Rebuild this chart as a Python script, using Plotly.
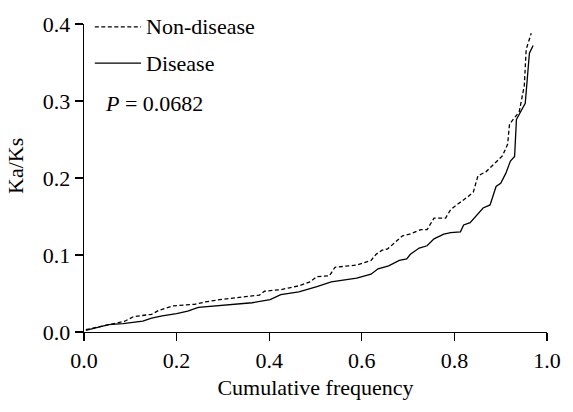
import plotly.graph_objects as go

# Cumulative frequency vs Ka/Ks
nondisease_freq = [0.004, 0.04, 0.076, 0.088, 0.107, 0.146, 0.161, 0.193, 0.239, 0.262,
                   0.293, 0.325, 0.379, 0.39, 0.425, 0.441, 0.464, 0.488, 0.503, 0.530,
                   0.542, 0.589, 0.620, 0.631, 0.643, 0.656, 0.688, 0.703, 0.728, 0.741,
                   0.756, 0.781, 0.792, 0.809, 0.830, 0.841, 0.851, 0.868, 0.890, 0.904,
                   0.915, 0.919, 0.94, 0.951, 0.955, 0.966]
nondisease_kaks = [0.003, 0.008, 0.0127, 0.014, 0.020, 0.023, 0.028, 0.034, 0.036, 0.039,
                   0.042, 0.044, 0.048, 0.053, 0.055, 0.057, 0.060, 0.065, 0.072, 0.073,
                   0.084, 0.087, 0.093, 0.101, 0.106, 0.108, 0.125, 0.127, 0.133, 0.133,
                   0.148, 0.148, 0.159, 0.167, 0.176, 0.182, 0.203, 0.208, 0.221, 0.229,
                   0.244, 0.27, 0.286, 0.32, 0.367, 0.388]

disease_freq = [0.004, 0.053, 0.084, 0.127, 0.146, 0.169, 0.2, 0.224, 0.247, 0.293,
                0.363, 0.402, 0.425, 0.464, 0.488, 0.503, 0.534, 0.589, 0.620, 0.635,
                0.658, 0.681, 0.697, 0.705, 0.724, 0.741, 0.756, 0.777, 0.792, 0.813,
                0.820, 0.834, 0.862, 0.877, 0.883, 0.890, 0.900, 0.911, 0.921, 0.930,
                0.934, 0.953, 0.962, 0.970]
disease_kaks = [0.002, 0.0097, 0.011, 0.014, 0.018, 0.021, 0.024, 0.027, 0.032, 0.034,
                0.038, 0.042, 0.0485, 0.052, 0.056, 0.059, 0.065, 0.070, 0.075, 0.082,
                0.086, 0.093, 0.095, 0.101, 0.109, 0.112, 0.121, 0.127, 0.129, 0.130,
                0.139, 0.142, 0.161, 0.165, 0.176, 0.189, 0.193, 0.206, 0.222, 0.228,
                0.276, 0.297, 0.362, 0.372]

x_ticks = [0.0, 0.2, 0.4, 0.6, 0.8, 1.0]
y_ticks = [0.0, 0.1, 0.2, 0.3, 0.4]
series_names = ["Non-disease", "Disease"]
p_text = "<i>P</i> = 0.0682"

FONT = "Liberation Serif"
FS = 22
W, H = 573, 412
ML, MR, MT, MB = 84, 18, 17, 80

fig = go.Figure()
fig.add_trace(go.Scatter(x=nondisease_freq, y=nondisease_kaks, mode="lines",
                         name=series_names[0],
                         line=dict(color="black", width=1.3, dash="4px,2.5px")))
fig.add_trace(go.Scatter(x=disease_freq, y=disease_kaks, mode="lines",
                         name=series_names[1],
                         line=dict(color="black", width=1.3)))

pw = W - ML - MR
ph = H - MT - MB

def px_x(p):
    return (p - ML) / pw

def px_y(p):
    return (H - MB - p) / ph

# manual legend
legend_rows = [(series_names[0], "4px,2.5px", 20), (series_names[1], "solid", 57)]
for name, dash, ypx in legend_rows:
    fig.add_shape(type="line", xref="paper", yref="paper",
                  x0=px_x(95), x1=px_x(142), y0=px_y(ypx), y1=px_y(ypx),
                  line=dict(color="black", width=1.3, dash=dash))
    fig.add_annotation(xref="paper", yref="paper", x=px_x(145), y=px_y(ypx),
                       text=name, showarrow=False, xanchor="left", yanchor="middle",
                       font=dict(family=FONT, size=FS, color="black"))

fig.add_annotation(xref="paper", yref="paper", x=px_x(103), y=px_y(98),
                   text=p_text, showarrow=False, xanchor="left", yanchor="middle",
                   font=dict(family=FONT, size=FS, color="black"))

# y-axis title
fig.add_annotation(xref="paper", yref="paper", x=px_x(15), y=px_y(162),
                   text="Ka/Ks", showarrow=False, textangle=-90,
                   xanchor="center", yanchor="middle",
                   font=dict(family=FONT, size=FS, color="black"))

fig.update_layout(
    width=W, height=H,
    margin=dict(l=ML, r=MR, t=MT, b=MB),
    paper_bgcolor="white", plot_bgcolor="white",
    showlegend=False,
    font=dict(family=FONT, size=FS, color="black"),
    xaxis=dict(range=[0, 1.0], tickvals=x_ticks, ticktext=[f"{v:.1f}" for v in x_ticks],
               showgrid=False, zeroline=False, showline=True, linecolor="black",
               linewidth=1.3, ticks="outside", ticklen=8, tickwidth=1.3,
               tickcolor="black", tickfont=dict(family=FONT, size=FS),
               title=dict(text="Cumulative frequency", standoff=8,
                          font=dict(family=FONT, size=FS))),
    yaxis=dict(range=[0, 0.4], tickvals=y_ticks, ticktext=[f"{v:.1f}" for v in y_ticks],
               showgrid=False, zeroline=False, showline=True, linecolor="black",
               linewidth=1.3, ticks="outside", ticklen=8, tickwidth=1.3,
               tickcolor="black", tickfont=dict(family=FONT, size=FS)),
)

fig.write_html("out.html",
               config={"displayModeBar": False, "staticPlot": True},
               post_script="document.body.style.margin='0';document.body.style.overflow='hidden';")
